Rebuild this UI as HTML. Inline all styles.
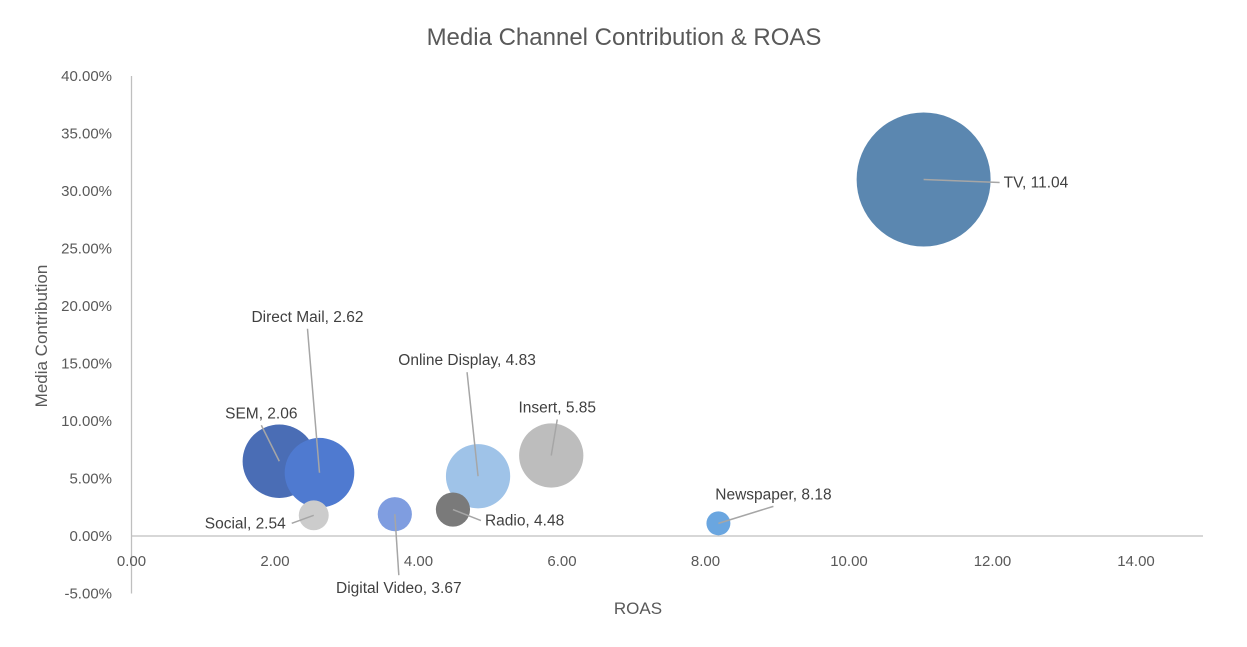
<!DOCTYPE html>
<html><head><meta charset="utf-8"><style>
body{margin:0;background:#fff;}
svg{display:block;font-family:"Liberation Sans",sans-serif;}
</style></head><body>
<svg id="chart" width="1247" height="647">
<text x="624" y="45" text-anchor="middle" font-size="24" fill="#595959">Media Channel Contribution &amp; ROAS</text>
<g id="axes"></g><g id="bubbles"></g><g id="labels"></g>
<text x="638" y="614" text-anchor="middle" font-size="17" fill="#595959">ROAS</text>
<text transform="translate(47,336) rotate(-90)" text-anchor="middle" font-size="17" fill="#595959">Media Contribution</text>
</svg>
<script>
const channels=["TV","SEM","Direct Mail","Insert","Online Display","Radio","Digital Video","Social","Newspaper"];
const roas=[11.04,2.06,2.62,5.85,4.83,4.48,3.67,2.54,8.18];
const contribution=[31.0,6.5,5.5,7.0,5.2,2.3,1.9,1.8,1.1];
const bubbleSize=[100,30,27,23,23,6.5,6.5,5,3.2];
const colors=["#5b87b0","#4a6db5","#4f7ad0","#bdbdbd","#9fc3e8","#7a7a7a","#7f9de0","#cccccc","#6aa6e0"];
const xTicks=[0,2,4,6,8,10,12,14];
const yTicks=[-5,0,5,10,15,20,25,30,35,40];
const labelDx=[80,-18,-12,6,-11,32,4,-28,55];
const labelDy=[8,-43,-151,-43,-111,16,79,13,-24];
const anchors=["start","middle","middle","middle","middle","start","middle","end","middle"];

const NS="http://www.w3.org/2000/svg";
const X=v=>131.5+v*71.75;
const Y=v=>536-v*11.5;
const R=s=>67*Math.sqrt(s/100);
function mk(t,a,p){const e=document.createElementNS(NS,t);for(const k in a)e.setAttribute(k,a[k]);p.appendChild(e);return e;}
const ax=document.getElementById('axes'),bb=document.getElementById('bubbles'),lb=document.getElementById('labels');
let l=mk('line',{x1:X(0),x2:1203,y1:Y(0),y2:Y(0),stroke:'#bfbfbf','stroke-width':1.3},ax);


l=mk('line',{x1:X(0),x2:X(0),y1:Y(40),y2:Y(-5),stroke:'#bfbfbf','stroke-width':1.3},ax);


xTicks.forEach(v=>{const t=mk('text',{x:X(v),y:Y(0)+30,'text-anchor':'middle','font-size':15,fill:'#595959'},ax);t.textContent=v.toFixed(2);

});
yTicks.forEach(v=>{const t=mk('text',{x:112,y:Y(v)+5,'text-anchor':'end','font-size':15,fill:'#595959'},ax);t.textContent=v.toFixed(2)+'%';

});
channels.forEach((c,i)=>{
 const cx=X(roas[i]),cy=Y(contribution[i]);
 const b=mk('circle',{cx:cx,cy:cy,r:R(bubbleSize[i]),fill:colors[i]},bb);
 
 
 const lx=cx+labelDx[i],ly=cy+labelDy[i];
 let ex,ey;
 if(anchors[i]=='start'){ex=lx-4;ey=ly-5;}
 else if(anchors[i]=='end'){ex=lx+6;ey=ly-5;}
 else if(labelDy[i]<0){ex=lx+(labelDx[i]>30?-25:0)*0+ (i==8?0:0);ey=ly+7;}
 else {ex=lx;ey=ly-18;}
 const ln=mk('line',{x1:cx,y1:cy,x2:ex,y2:ey,stroke:'#a6a6a6','stroke-width':1.5},lb);
 
 
 const t=mk('text',{x:lx,y:ly,'text-anchor':anchors[i],'font-size':15.5,fill:'#404040'},lb);
 t.textContent=c+', '+roas[i].toFixed(2);
 
 
});
</script>
</body></html>
